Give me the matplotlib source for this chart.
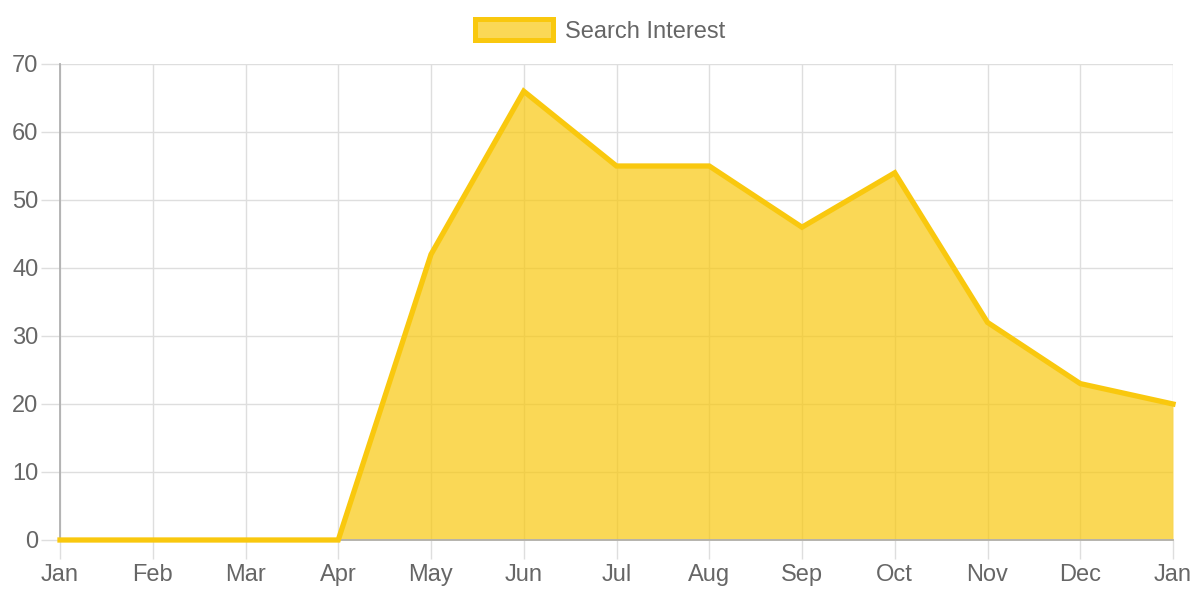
import matplotlib.pyplot as plt
from matplotlib.patches import Patch

plt.rcParams['font.family'] = ['Liberation Sans', 'DejaVu Sans']

months = ["Jan", "Feb", "Mar", "Apr", "May", "Jun", "Jul", "Aug", "Sep", "Oct", "Nov", "Dec", "Jan"]
interest = [0, 0, 0, 0, 42, 66, 55, 55, 46, 54, 32, 23, 20]
label = "Search Interest"

line_color = "#F9C80E"
fill_color = (249 / 255, 200 / 255, 14 / 255, 0.7)
text_color = "#666666"

fig = plt.figure(figsize=(12, 6), dpi=100)
ax = fig.add_axes([60 / 1200, 60 / 600, 1113 / 1200, 476 / 600])

x = list(range(len(months)))
ax.fill_between(x, interest, 0, color=fill_color, linewidth=0, zorder=3)
ax.plot(x, interest, color=line_color, linewidth=3.8, zorder=6, clip_on=False,
        solid_joinstyle="miter")

ax.set_xlim(0, len(months) - 1)
ax.set_ylim(0, 70)
ax.set_xticks(x)
ax.set_xticklabels(months)
ax.set_yticks(range(0, 71, 10))

ax.grid(True, color="#dedede", linewidth=1, zorder=0)
ax.set_axisbelow(True)
for side in ["top", "right"]:
    ax.spines[side].set_visible(False)
for side in ["left", "bottom"]:
    ax.spines[side].set_color("#b0b0b0")
    ax.spines[side].set_linewidth(1.3)
    ax.spines[side].set_zorder(5)

ax.tick_params(axis="both", colors="#dedede", length=14, width=1,
               labelcolor=text_color, labelsize=17)
ax.tick_params(axis="x", pad=3)
ax.tick_params(axis="y", pad=1.5)

leg = fig.legend(handles=[Patch(facecolor=fill_color, edgecolor=line_color, linewidth=3.6)],
                 labels=[label], loc="upper center", bbox_to_anchor=(0.5, 1.0),
                 frameon=False, fontsize=17, handlelength=3.3, handleheight=1.0,
                 handletextpad=0.5, borderaxespad=0.4)
for t in leg.get_texts():
    t.set_color(text_color)

fig.savefig("out.png", dpi=100)
